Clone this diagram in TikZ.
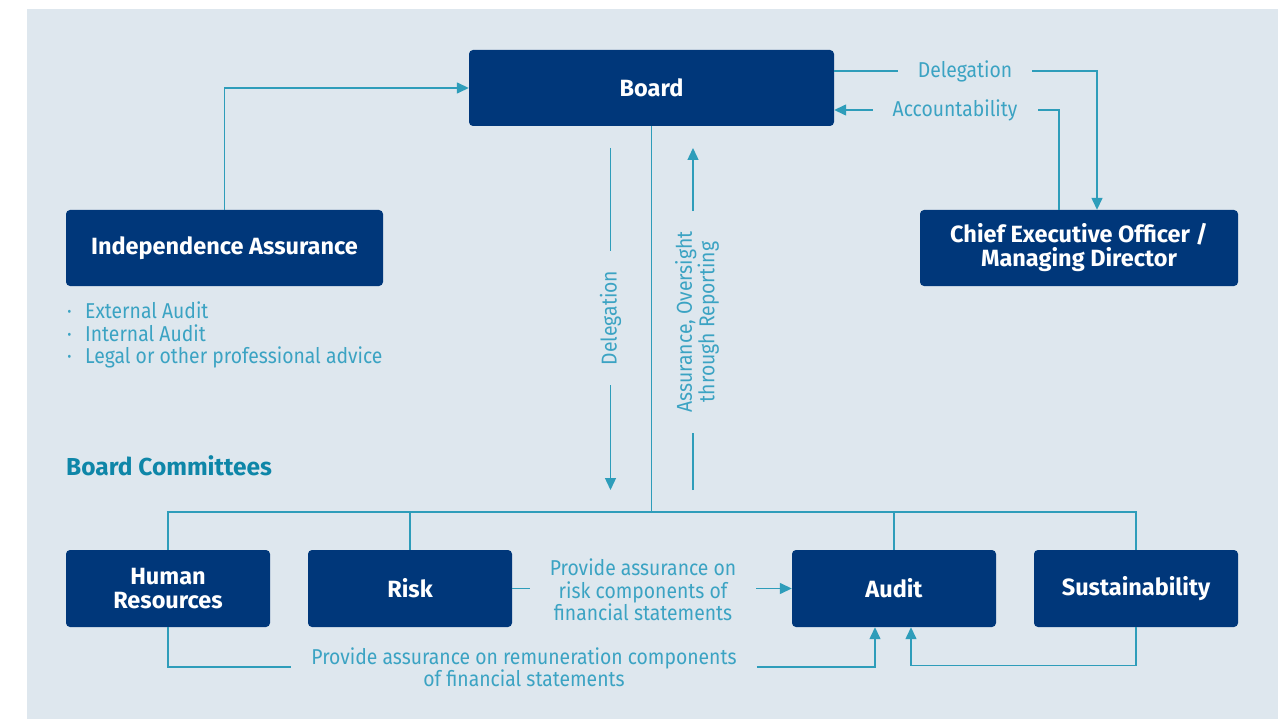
\documentclass[tikz,border=0pt]{standalone}
\usepackage{fontspec}
\setmainfont{Fira Sans}
\newfontfamily\labfont[FakeStretch=0.9]{Fira Sans}
\usetikzlibrary{arrows.meta,calc}
\definecolor{bgc}{HTML}{DEE7EE}
\definecolor{navy}{HTML}{00377A}
\definecolor{lineteal}{HTML}{2E9DBA}
\definecolor{labteal}{HTML}{3BA3C3}
\definecolor{headteal}{HTML}{0E86A8}
\begin{document}
\begin{tikzpicture}[x=1pt,y=-1pt,
  box/.style={fill=navy, rounded corners=4pt, text=white, font=\bfseries\fontsize{23.5}{24}\selectfont, align=center, inner sep=0pt},
  conn/.style={draw=lineteal, line width=1.4pt},
  arr/.style={conn, -{Triangle[length=12pt,width=11pt]}},
  labfnt/.style={text=labteal, font=\labfont\fontsize{21.5}{22.5}\selectfont},
  lab/.style={labfnt, align=center, inner ysep=0pt, inner xsep=20pt}]
\useasboundingbox (0,0) rectangle (1287,719);
\fill[bgc] (27,9) rectangle (1278,719);
% boxes
\node[box, minimum width=365pt, minimum height=76pt] (board) at (651.5,88) {Board};
\node[box, minimum width=317pt, minimum height=76pt] (ia) at (224.5,248) {Independence Assurance};
\node[box, minimum width=318pt, minimum height=76pt] (ceo) at (1079,248) {Chief Executive Officer /\\Managing Director};
\node[box, minimum width=204pt, minimum height=77pt] (hr) at (168,588.5) {Human\\Resources};
\node[box, minimum width=204pt, minimum height=77pt] (risk) at (410,588.5) {Risk};
\node[box, minimum width=204pt, minimum height=77pt] (audit) at (894,588.5) {Audit};
\node[box, minimum width=204pt, minimum height=77pt] (sust) at (1136,588.5) {Sustainability};
% helper coordinates
\coordinate (bus) at (651.5,512);
\coordinate (xdel) at (610.5,0);
\coordinate (xass) at (693,0);
\coordinate (ydelend) at (0,490);
\coordinate (ytop) at (0,148);
% labels
\node[lab] (deleg1) at (965,71) {Delegation};
\node[lab] (acc) at (955,110) {Accountability};
\node[lab, rotate=90] (delv) at (610.5,318) {Delegation};
\node[lab, rotate=90] (asv) at (697,322) {Assurance, Oversight\\through Reporting};
\node[lab] (rlab) at (643,590) {Provide assurance on\\risk components of\\financial statements};
\node[lab] (hrlab) at (524,667) {Provide assurance on remuneration components\\of financial statements};
\node[labfnt, align=left, anchor=north west, inner sep=0pt] (ialist) at (66,302)
  {\makebox[19pt][l]{\hspace{1pt}·}External Audit\\\makebox[19pt][l]{\hspace{1pt}·}Internal Audit\\\makebox[19pt][l]{\hspace{1pt}·}Legal or other professional advice};
\node[text=headteal, font=\bfseries\fontsize{24.5}{26}\selectfont, anchor=west, inner sep=0pt] (bc) at (66,466) {Board Committees};
% connectors
\draw[arr] (ia.north) |- (board.west);
\draw[conn] (board.east |- deleg1) -- (deleg1.west);
\draw[arr] (deleg1.east) -| ([xshift=18pt]ceo.north);
\draw[conn] ([xshift=-20pt]ceo.north) |- (acc.east);
\draw[arr] (acc.west) -- (board.east |- acc);
\draw[conn] (board.south) -- (bus);
\draw[conn] (hr.north) |- (bus) -| (sust.north);
\draw[conn] (risk.north) -- (risk.north |- bus);
\draw[conn] (audit.north) -- (audit.north |- bus);
\draw[conn] (xdel |- ytop) -- (delv.east);
\draw[arr] (delv.west) -- (xdel |- ydelend);
\draw[conn] (xass |- ydelend) -- (xass |- asv.west);
\draw[arr] (xass |- asv.east) -- (xass |- ytop);
\draw[conn] (risk.east) -- (risk.east -| rlab.west);
\draw[arr] (rlab.east |- audit.west) -- (audit.west);
\draw[conn] (hr.south) |- (hrlab.west);
\draw[arr] (hrlab.east) -| ([xshift=-19pt]audit.south);
\draw[arr] (sust.south) -- ++(0,38) -| ([xshift=17pt]audit.south);
\end{tikzpicture}
\end{document}
